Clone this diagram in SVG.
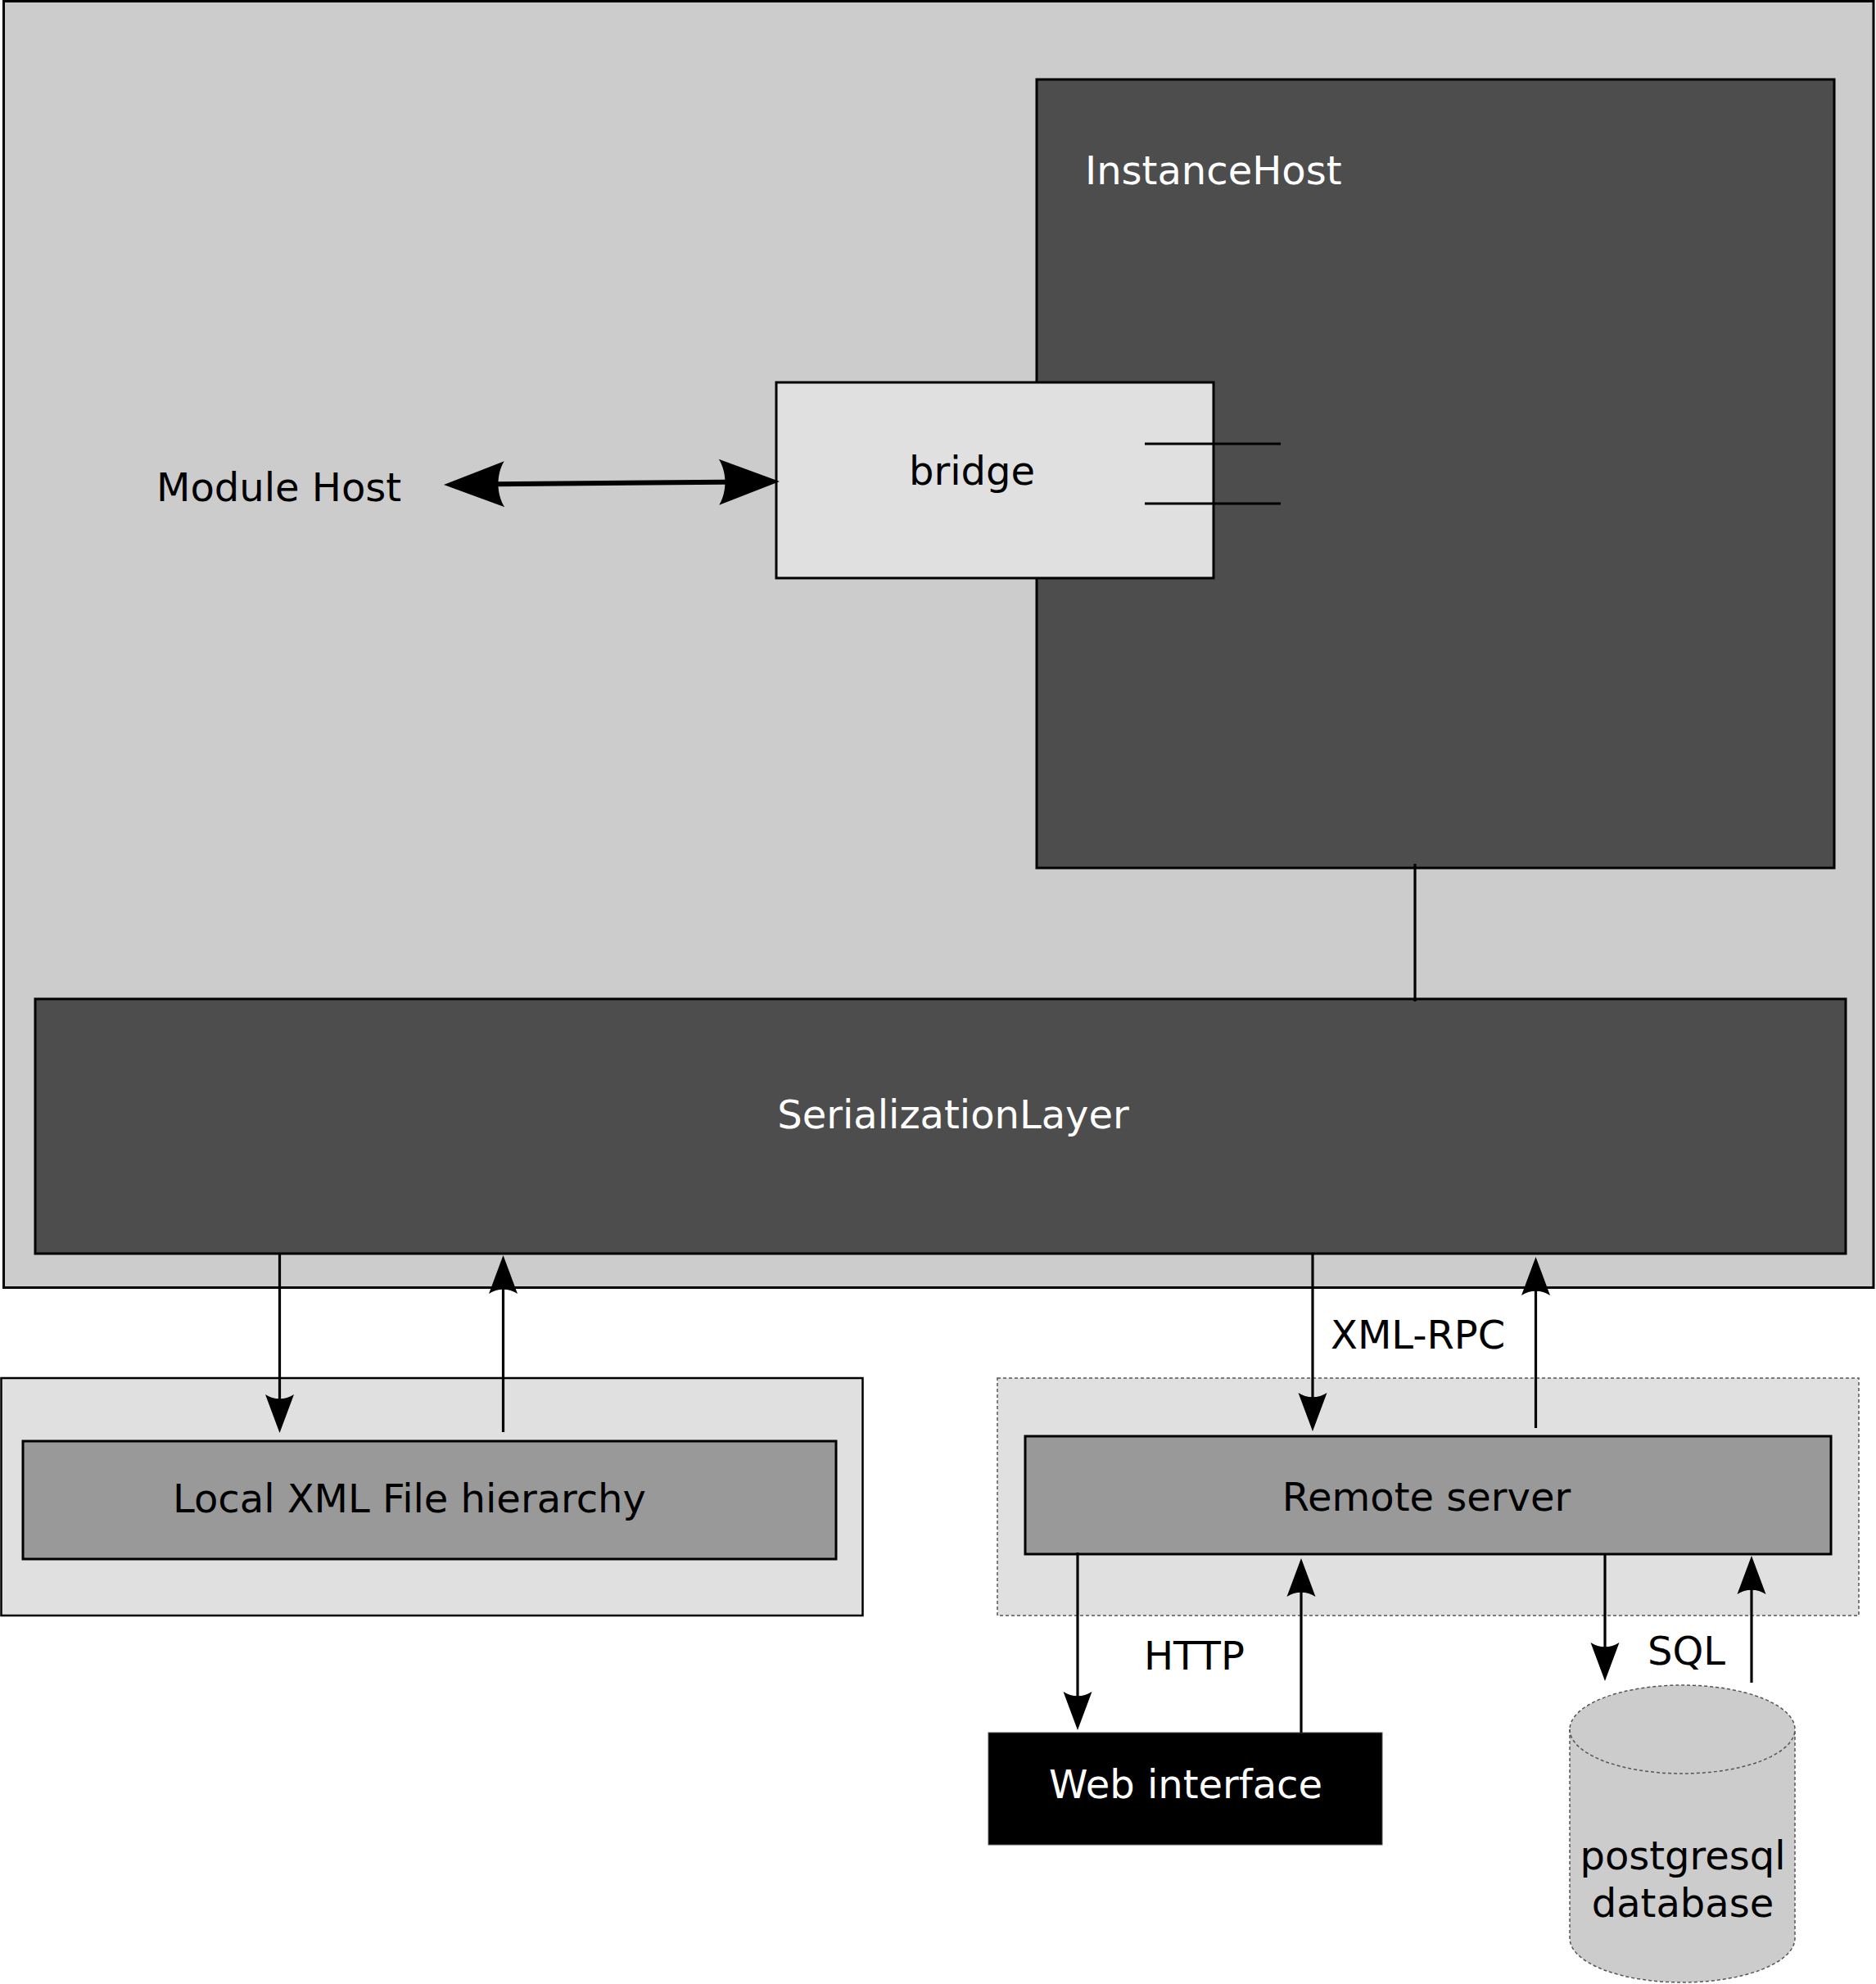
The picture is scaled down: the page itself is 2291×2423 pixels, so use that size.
<svg xmlns="http://www.w3.org/2000/svg" width="2291" height="2423" viewBox="0 0 2291 2423">
  <style>
    text { font-family: "DejaVu Sans", "Liberation Sans", sans-serif; font-size: 48px; }
    .dark { fill: #ffffff; }
    .ink { fill: #000000; }
    .box { stroke: #000000; stroke-width: 3; }
    .conn { fill: none; stroke: #000000; stroke-width: 3.2; }
    .dash { stroke: #555555; stroke-width: 1.5; stroke-dasharray: 4 3; }
  </style>
  <defs>
    <marker id="arr" markerUnits="userSpaceOnUse" markerWidth="120" markerHeight="120" viewBox="-60 -60 120 120" refX="0" refY="0" orient="auto-start-reverse" overflow="visible">
      <path d="M -39,-17.5 L 8,0 L -39,17.5 C -32,7 -32,-7 -39,-17.5 z" fill="#000000"/>
    </marker>
    <marker id="bigarr" markerUnits="userSpaceOnUse" markerWidth="200" markerHeight="200" viewBox="-100 -100 200 200" refX="0" refY="0" orient="auto-start-reverse" overflow="visible">
      <path d="M -64,-28 L 10,0 L -64,28 C -54,12 -54,-12 -64,-28 z" fill="#000000"/>
    </marker>
  </defs>

  <g id="module-host">
    <rect x="4.5" y="1.5" width="2283.5" height="1571" fill="#cccccc" class="box"/>
    <text x="191" y="612" class="ink">Module Host</text>
  </g>

  <g id="instance-host">
    <rect x="1266" y="97" width="974" height="963" fill="#4d4d4d" class="box"/>
    <text x="1325" y="225" class="dark">InstanceHost</text>
  </g>

  <g id="bridge">
    <rect x="948" y="467" width="534" height="239" fill="#e0e0e0" class="box"/>
    <text x="1187" y="592" text-anchor="middle" class="ink">bridge</text>
    <line x1="1398" y1="542" x2="1564" y2="542" class="conn"/>
    <line x1="1398" y1="615" x2="1564" y2="615" class="conn"/>
  </g>

  <g id="serialization-layer">
    <rect x="43" y="1220" width="2211" height="311" fill="#4d4d4d" class="box"/>
    <text x="1164" y="1378" text-anchor="middle" class="dark">SerializationLayer</text>
  </g>

  <g id="local-xml">
    <rect x="1.5" y="1683" width="1052" height="290" fill="#e0e0e0" stroke="#000000" stroke-width="2.5"/>
    <rect x="28" y="1760" width="993" height="144" fill="#999999" class="box"/>
    <text x="500" y="1847" text-anchor="middle" class="ink">Local XML File hierarchy</text>
  </g>

  <g id="remote-server">
    <rect x="1218" y="1683" width="1052" height="290" fill="#e0e0e0" class="dash"/>
    <rect x="1252" y="1754" width="984" height="144" fill="#999999" class="box"/>
    <text x="1742" y="1845" text-anchor="middle" class="ink">Remote server</text>
  </g>

  <g id="web-interface">
    <rect x="1207" y="2116" width="481" height="137" fill="#000000" stroke="#555555" stroke-width="1"/>
    <text x="1448" y="2196" text-anchor="middle" class="dark">Web interface</text>
  </g>

  <g id="postgresql-database">
    <path d="M 1917,2112 L 1917,2367 A 137.5,54 0 0 0 2192,2367 L 2192,2112 A 137.5,54 0 0 0 1917,2112 z" fill="#cccccc" class="dash"/>
    <path d="M 1917,2112 A 137.5,54 0 0 0 2192,2112" fill="none" class="dash"/>
    <text x="2055" y="2283" text-anchor="middle" class="ink">postgresql</text>
    <text x="2055" y="2341" text-anchor="middle" class="ink">database</text>
  </g>

  <g id="connectors">
    <line x1="552" y1="591.8" x2="942" y2="588.2" fill="none" stroke="#000000" stroke-width="6" marker-start="url(#bigarr)" marker-end="url(#bigarr)"/>
    <line x1="1728" y1="1055" x2="1728" y2="1223" class="conn"/>
    <line x1="341.5" y1="1531" x2="341.5" y2="1742" class="conn" marker-end="url(#arr)"/>
    <line x1="614.5" y1="1749" x2="614.5" y2="1541" class="conn" marker-end="url(#arr)"/>
    <line x1="1603" y1="1531" x2="1603" y2="1740" class="conn" marker-end="url(#arr)"/>
    <line x1="1875.5" y1="1744" x2="1875.5" y2="1543" class="conn" marker-end="url(#arr)"/>
    <line x1="1316" y1="1896" x2="1316" y2="2105" class="conn" marker-end="url(#arr)"/>
    <line x1="1589" y1="2116" x2="1589" y2="1911" class="conn" marker-end="url(#arr)"/>
    <line x1="1960" y1="1898" x2="1960" y2="2045" class="conn" marker-end="url(#arr)"/>
    <line x1="2139" y1="2055" x2="2139" y2="1908" class="conn" marker-end="url(#arr)"/>
    <text x="1625" y="1647" class="ink">XML-RPC</text>
    <text x="1397" y="2039" class="ink">HTTP</text>
    <text x="2012" y="2033" class="ink">SQL</text>
  </g>
</svg>
